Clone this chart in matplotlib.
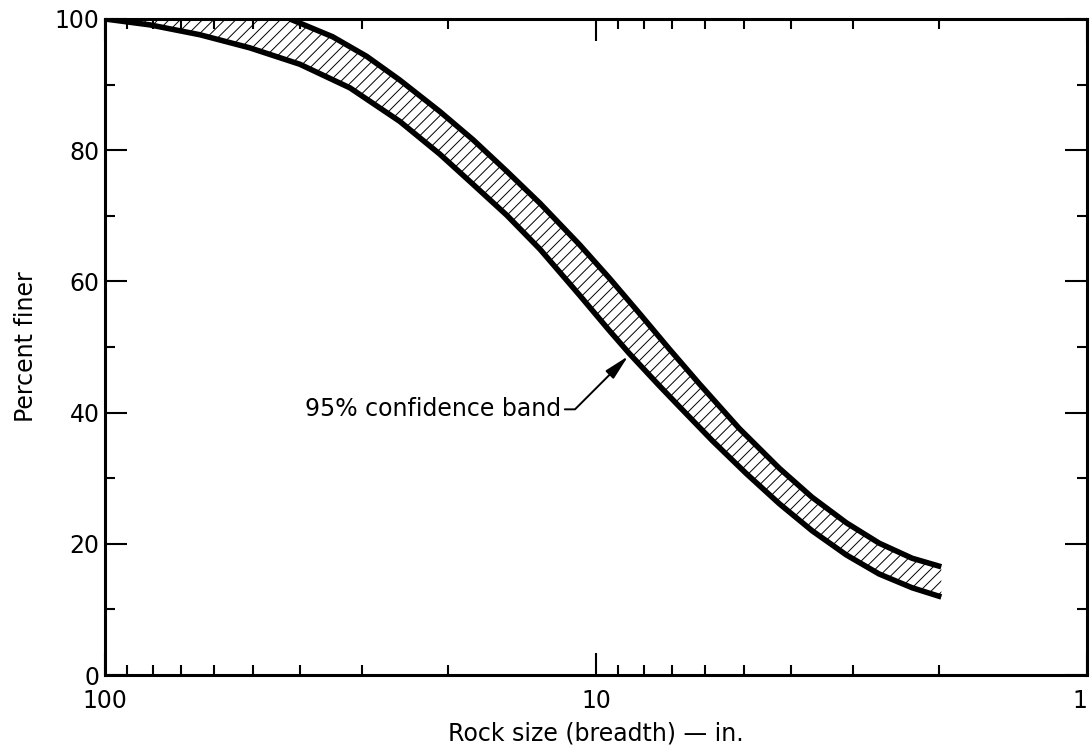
import numpy as np
import matplotlib
matplotlib.use("Agg")
import matplotlib.pyplot as plt
from matplotlib.ticker import LogLocator, NullFormatter, FixedLocator, MultipleLocator

# Upper limit of the 95% confidence band (rock size in inches, percent finer)
upper_size = [42.0, 34.4, 29.3, 25.1, 20.8, 17.8, 15.2, 13.0, 10.8, 9.39,
              8.15, 7.09, 6.16, 5.11, 4.23, 3.63, 3.09, 2.65, 2.27, 1.98]
upper_pct = [100.0, 97.3, 94.3, 90.7, 85.9, 81.6, 76.8, 71.9, 65.6, 60.5,
             55.1, 49.7, 44.4, 37.6, 31.5, 27.1, 23.2, 20.1, 17.8, 16.5]

# Lower limit of the band
lower_size = [100.0, 81.0, 64.1, 50.7, 40.1, 31.7, 25.1, 20.8, 17.8, 15.2,
              13.0, 10.8, 9.39, 8.55, 7.43, 6.76, 5.79, 4.94, 4.23, 3.63,
              3.09, 2.65, 2.27, 1.98]
lower_pct = [100.0, 99.1, 97.6, 95.6, 93.1, 89.5, 84.4, 79.4, 74.8, 70.1,
             64.9, 57.9, 52.5, 49.0, 44.1, 40.9, 35.7, 30.7, 26.1, 22.0,
             18.3, 15.4, 13.3, 11.9]

x_ticks = [100, 10, 1]
x_tick_labels = ["100", "10", "1"]
y_ticks = [0, 20, 40, 60, 80, 100]
y_tick_labels = ["0", "20", "40", "60", "80", "100"]

band_label = "95% confidence band"
band_label_pos = (11.8, 40.5)
band_arrow_tip = (8.6, 48.6)

plt.rcParams["font.family"] = ["DejaVu Sans"]
plt.rcParams["hatch.linewidth"] = 0.7
plt.rcParams["hatch.color"] = "black"

fig = plt.figure(figsize=(10.91, 7.56), dpi=100)
ax = fig.add_axes([0.0962, 0.1071, 0.9001, 0.8678])

# Hatched band between the two limits (closed along the 100% line at left)
poly_x = np.r_[lower_size, upper_size[::-1]]
poly_y = np.r_[lower_pct, upper_pct[::-1]]
ax.fill(poly_x, poly_y, facecolor="white", edgecolor="black", hatch="///",
        linewidth=0, zorder=1)

ax.plot(upper_size, upper_pct, color="black", lw=4.0,
        solid_joinstyle="round", solid_capstyle="butt", zorder=3)
ax.plot(lower_size, lower_pct, color="black", lw=4.0,
        solid_joinstyle="round", solid_capstyle="butt", zorder=3)

ax.set_xscale("log")
ax.set_xlim(100, 1)
ax.set_ylim(0, 100)

ax.xaxis.set_major_locator(FixedLocator(x_ticks))
ax.set_xticklabels(x_tick_labels)
ax.xaxis.set_minor_locator(LogLocator(base=10, subs=np.arange(2, 10)))
ax.xaxis.set_minor_formatter(NullFormatter())
ax.set_yticks(y_ticks)
ax.set_yticklabels(y_tick_labels)
ax.yaxis.set_minor_locator(MultipleLocator(10))

for s in ax.spines.values():
    s.set_linewidth(2.2)
    s.set_zorder(4)

ax.tick_params(which="both", direction="in", top=True, right=True,
               width=1.5, colors="black", labelsize=17)
ax.tick_params(which="major", length=16)
ax.tick_params(which="minor", length=7.5)
ax.tick_params(axis="x", which="major", pad=10)
ax.tick_params(axis="y", which="major", pad=4)

# keep the last size label inside the figure
ax.get_xticklabels()[-1].set_horizontalalignment("right")

ax.set_xlabel("Rock size (breadth) \u2014 in.", fontsize=17, labelpad=6)
ax.set_ylabel("Percent finer", fontsize=17, labelpad=12)

ax.annotate(band_label, xy=band_arrow_tip, xytext=band_label_pos,
            ha="right", va="center", fontsize=17,
            arrowprops=dict(arrowstyle="-|>,head_length=0.9,head_width=0.2",
                            connectionstyle="angle,angleA=0,angleB=45,rad=0",
                            color="black", lw=1.4, shrinkA=1, shrinkB=0),
            zorder=5)

fig.savefig("out.png", dpi=100, facecolor="white")
